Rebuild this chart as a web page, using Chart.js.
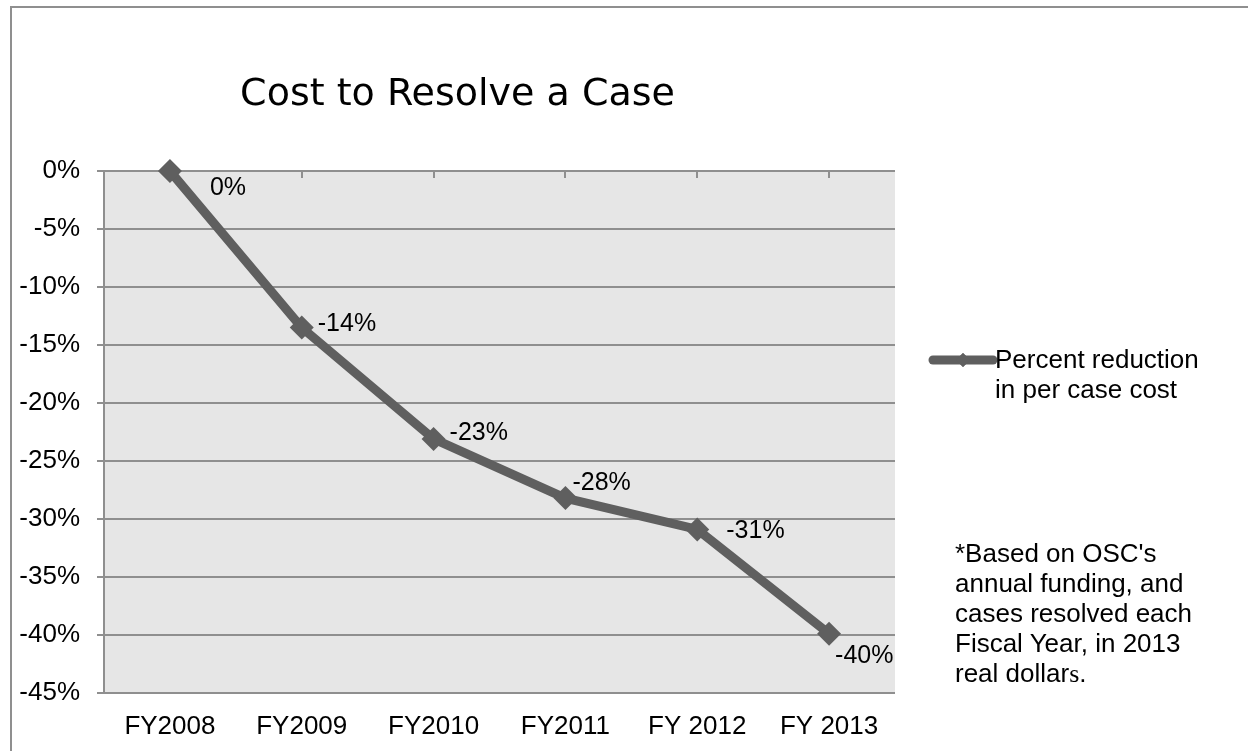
<!DOCTYPE html>
<html>
<head>
<meta charset="utf-8">
<title>Cost to Resolve a Case</title>
<script src="https://cdn.jsdelivr.net/npm/chart.js@4.4.0/dist/chart.umd.min.js"></script>
<style>
    html, body {
        margin: 0;
        padding: 0;
        background: #ffffff;
        overflow: hidden;
    }

    #wrap {
        position: relative;
        width: 1248px;
        height: 751px;
    }

    #grafico {
        position: absolute;
        left: 0;
        top: 0;
    }

    #nota {
        position: absolute;
        left: 955px;
        top: 538px;
        font-family: "Liberation Sans", Arial, sans-serif;
        font-size: 26px;
        line-height: 30px;
        color: #000000;
        white-space: nowrap;
    }
</style>
</head>
<body>
<div id="wrap">
    <canvas id="grafico" width="1248" height="751"></canvas>
    <div id="nota">*Based on OSC's<br>annual funding, and<br>cases resolved each<br>Fiscal Year, in 2013<br>real dollar<span style="font-family: 'Liberation Serif', serif">s</span>.</div>
</div>

<script>
const anos = ["FY2008", "FY2009", "FY2010", "FY2011", "FY 2012", "FY 2013"];
const reducao = [0, -13.5, -23.1, -28.2, -30.9, -39.9];
const rotulos = ["0%", "-14%", "-23%", "-28%", "-31%", "-40%"];
const legendaLinhas = ["Percent reduction", "in per case cost"];
const eixoY = { min: -45, max: 0, passo: 5 };

// deslocamento de cada rotulo em relacao ao ponto (x, y)
const deslocRotulo = [[40, 17], [16, -3], [16, -6], [7, -15], [29, 2], [6, 22]];

const cinzaLinha = "#5f5f5f";
const cinzaGrade = "#8f8f8f";
const fonteArial = "'Liberation Sans', Arial, sans-serif";

const fundoPlugin = {
    id: "fundo",
    beforeDraw(chart) {
        const { ctx, chartArea } = chart;

        ctx.save();
        ctx.strokeStyle = cinzaGrade;
        ctx.lineWidth = 2;
        ctx.strokeRect(11, 7, 1300, 800);

        ctx.fillStyle = "#e6e6e6";
        ctx.fillRect(chartArea.left, chartArea.top, chartArea.right - chartArea.left, chartArea.bottom - chartArea.top);
        ctx.restore();
    }
};

const rotulosPlugin = {
    id: "rotulos",
    afterDatasetsDraw(chart) {
        const ctx = chart.ctx;
        const pontos = chart.getDatasetMeta(0).data;

        ctx.save();
        ctx.font = `25px ${fonteArial}`;
        ctx.fillStyle = "#000000";
        ctx.textAlign = "left";
        ctx.textBaseline = "middle";

        for (let i = 0; i < pontos.length; i++) {
            ctx.fillText(rotulos[i], pontos[i].x + deslocRotulo[i][0], pontos[i].y + deslocRotulo[i][1]);
        }

        ctx.restore();
    }
};

const legendaPlugin = {
    id: "legenda",
    afterDraw(chart) {
        const ctx = chart.ctx;
        const ds = chart.data.datasets[0];
        const x = chart.chartArea.right + 38;
        const y = 360;

        ctx.save();
        ctx.strokeStyle = ds.borderColor;
        ctx.lineWidth = 9;
        ctx.lineCap = "round";
        ctx.beginPath();
        ctx.moveTo(x, y);
        ctx.lineTo(x + 60, y);
        ctx.stroke();

        Chart.helpers.drawPoint(ctx, { pointStyle: "rectRot", radius: 7, borderWidth: 0 }, x + 30, y);
        ctx.fillStyle = ds.borderColor;
        ctx.fill();

        ctx.font = `26px ${fonteArial}`;
        ctx.fillStyle = "#000000";
        ctx.textAlign = "left";
        ctx.textBaseline = "middle";

        for (let i = 0; i < legendaLinhas.length; i++) {
            ctx.fillText(legendaLinhas[i], x + 62, y + 1 + i * 30);
        }

        ctx.restore();
    }
};

const ctx = document.getElementById("grafico");

new Chart(ctx, {
    type: "line",
    data: {
        labels: anos,
        datasets: [{
            label: legendaLinhas.join(" "),
            data: reducao,
            borderColor: cinzaLinha,
            backgroundColor: cinzaLinha,
            borderWidth: 9,
            tension: 0,
            fill: false,
            clip: false,
            pointStyle: "rectRot",
            pointRadius: 12,
            pointHoverRadius: 12,
            pointBackgroundColor: cinzaLinha,
            pointBorderWidth: 0
        }]
    },
    options: {
        responsive: false,
        animation: false,
        events: [],
        layout: {
            padding: { left: 20, right: 353, top: 0, bottom: 0 }
        },
        scales: {
            x: {
                type: "category",
                position: "bottom",
                offset: true,
                grid: { display: false },
                border: { display: false },
                ticks: {
                    color: "#000000",
                    font: { family: fonteArial, size: 26 },
                    padding: 10,
                    maxRotation: 0,
                    autoSkip: false
                },
                afterFit: (scale) => { scale.height = 58; }
            },
            xTopo: {
                type: "category",
                position: "top",
                offset: true,
                grid: {
                    drawOnChartArea: false,
                    drawTicks: true,
                    tickLength: -7,
                    color: cinzaGrade,
                    lineWidth: 2
                },
                border: { display: false },
                ticks: { display: false },
                afterFit: (scale) => { scale.height = 0; }
            },
            y: {
                min: eixoY.min,
                max: eixoY.max,
                ticks: {
                    stepSize: eixoY.passo,
                    color: "#000000",
                    font: { family: fonteArial, size: 26 },
                    padding: 17,
                    callback: (valor) => `${valor}%`
                },
                grid: {
                    color: cinzaGrade,
                    lineWidth: 2,
                    tickLength: 7
                },
                border: { color: cinzaGrade, width: 2 },
                afterFit: (scale) => { scale.width = 84; }
            }
        },
        plugins: {
            legend: { display: false },
            tooltip: { enabled: false },
            title: {
                display: true,
                text: "Cost to Resolve a Case",
                color: "#000000",
                font: { family: "'DejaVu Sans', Verdana, sans-serif", size: 38, weight: "normal" },
                padding: { top: 72, bottom: 53.4 }
            }
        }
    },
    plugins: [fundoPlugin, rotulosPlugin, legendaPlugin]
});
</script>
</body>
</html>
